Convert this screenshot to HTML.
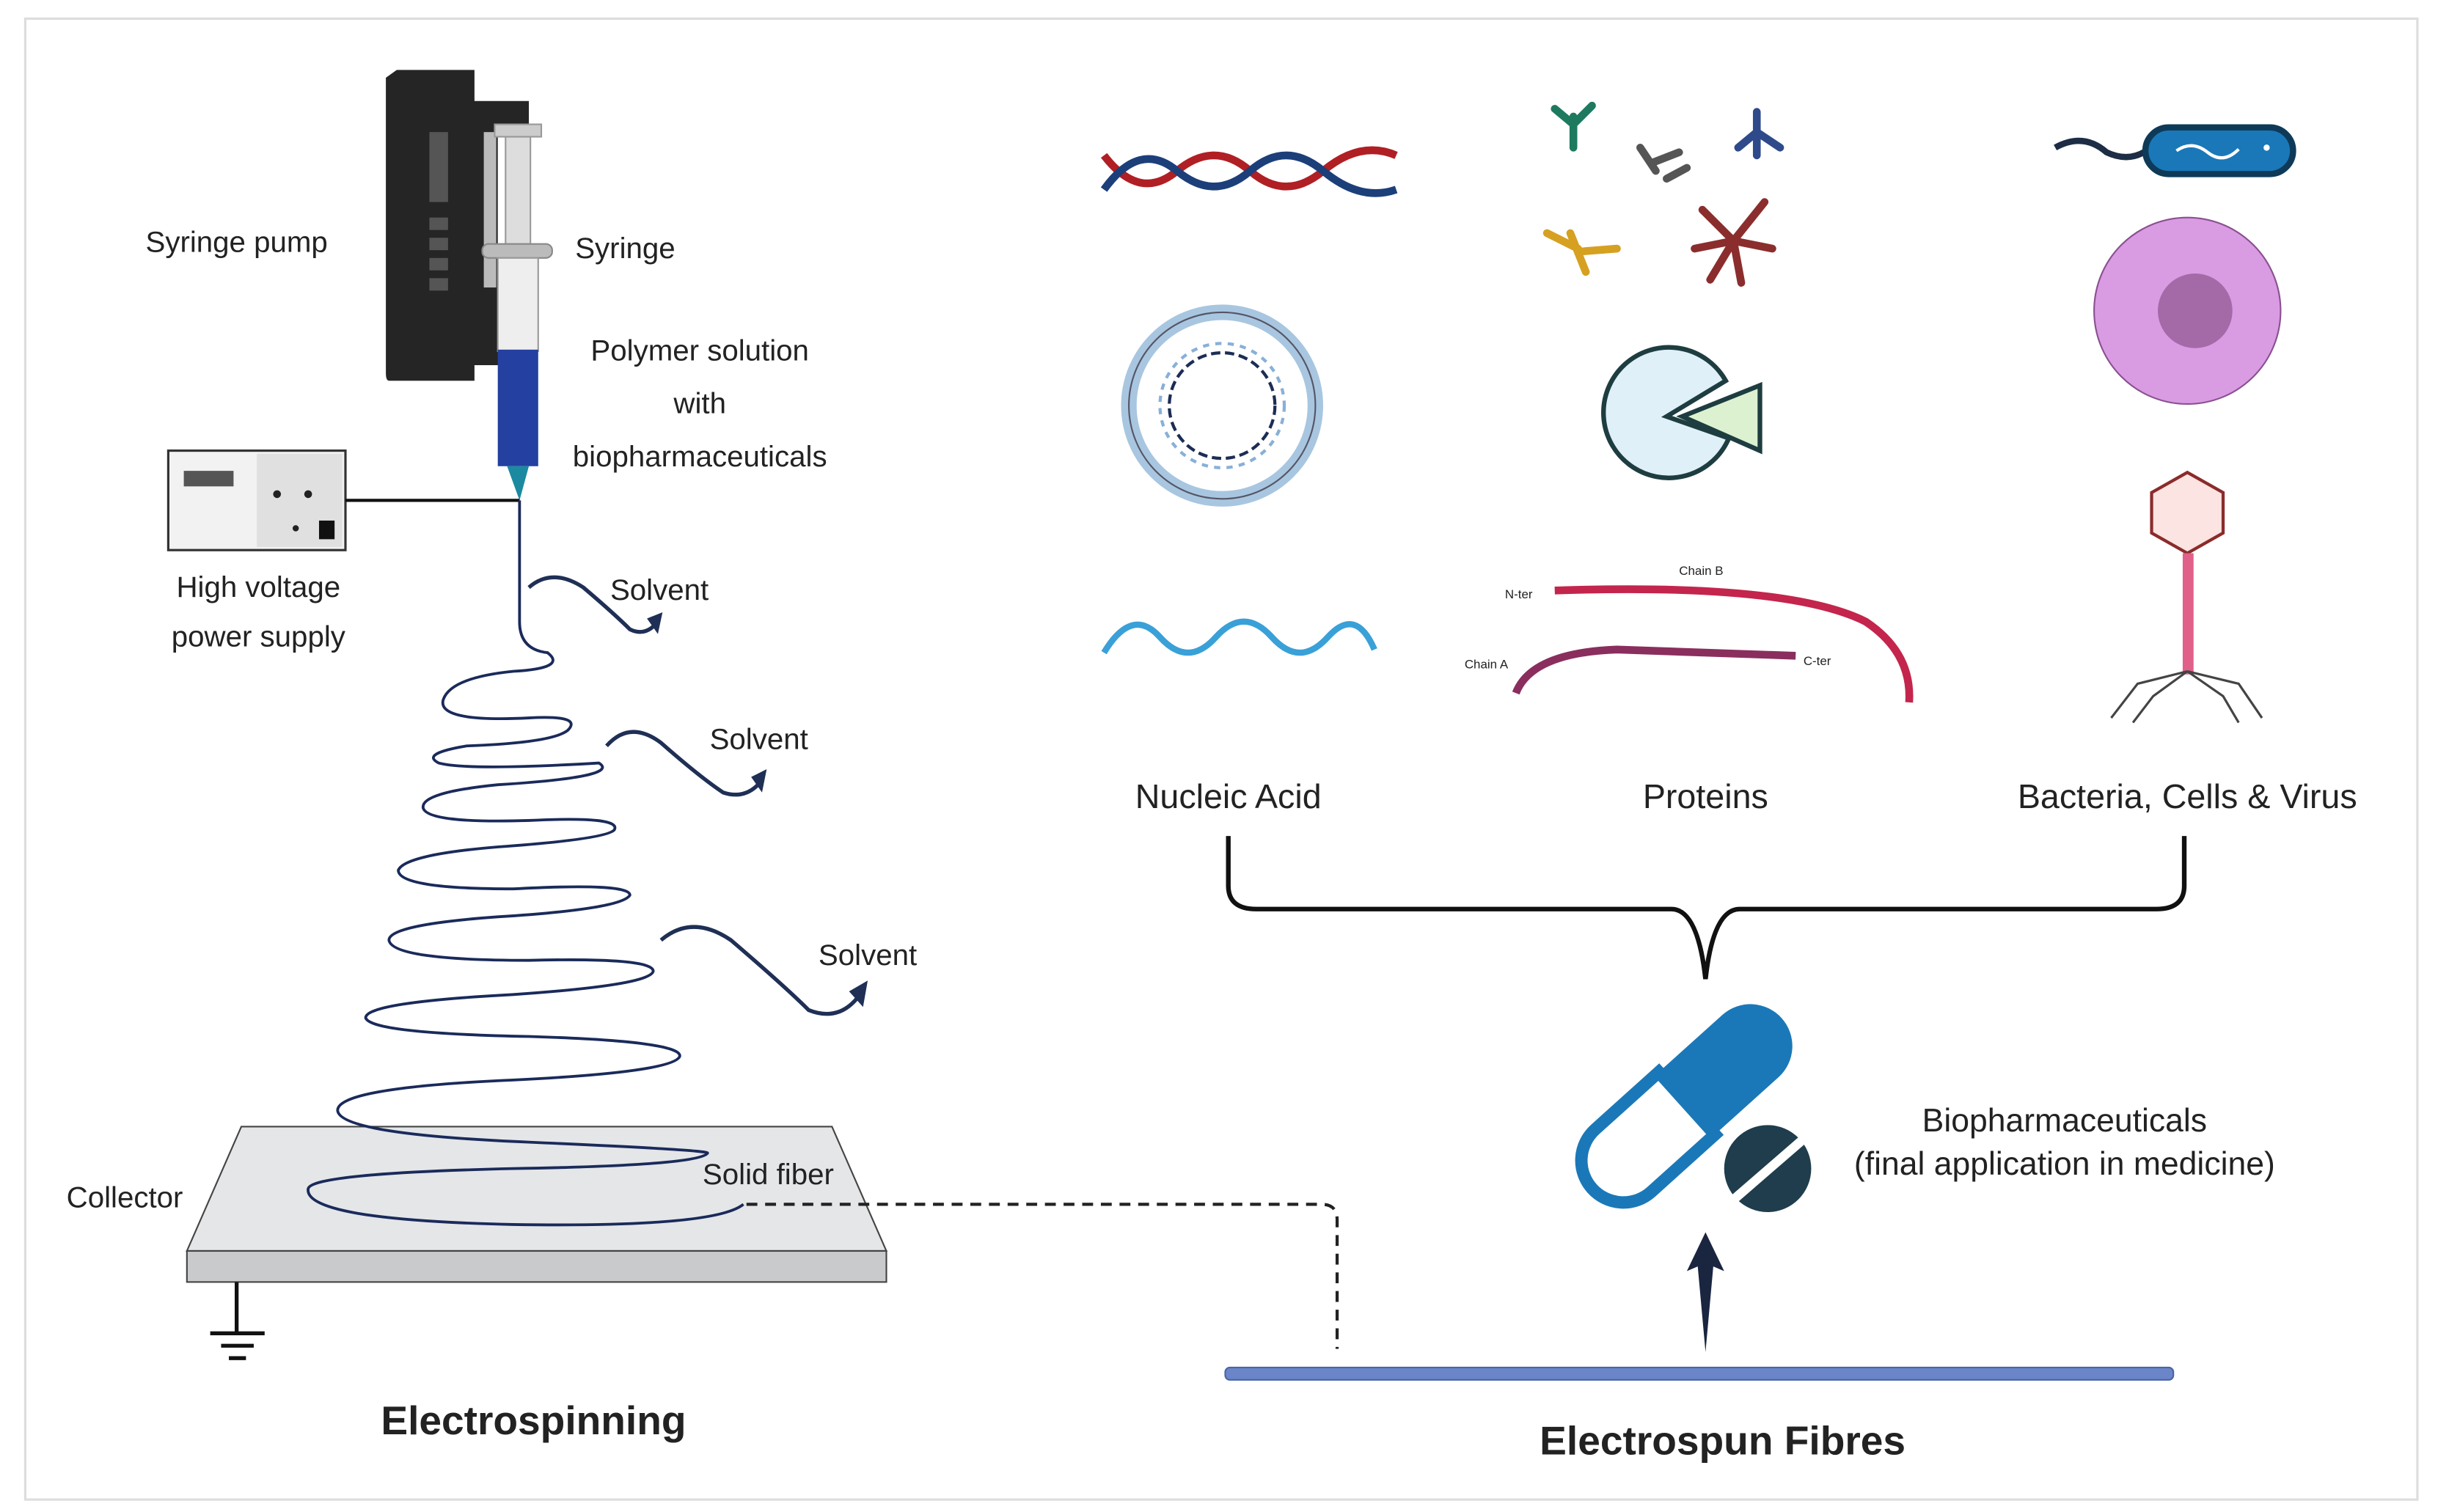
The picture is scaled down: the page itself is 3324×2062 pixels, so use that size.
<!DOCTYPE html>
<html><head><meta charset="utf-8"><style>html,body{margin:0;padding:0;background:#fff}svg{display:block}text{font-family:"Liberation Sans",sans-serif;fill:#222}</style></head><body>
<svg width="3324" height="2062" viewBox="0 0 1568 973" xmlns="http://www.w3.org/2000/svg">
<rect x="16" y="12" width="1539" height="953" fill="#fff" stroke="#ddd" stroke-width="1.5"/>
<!-- syringe pump -->
<path d="M255 45 H305 V65 H340 V80 H320 V190 H330 V215 H340 V235 H305 V245 H250 Q248 245 248 240 V50 Z" fill="#252525"/>
<rect x="276" y="85" width="12" height="45" fill="#555"/>
<rect x="276" y="140" width="12" height="8" fill="#555"/><rect x="276" y="153" width="12" height="8" fill="#555"/><rect x="276" y="166" width="12" height="8" fill="#555"/><rect x="276" y="179" width="12" height="8" fill="#555"/>
<rect x="311" y="85" width="8" height="100" fill="#bbb"/>
<rect x="325" y="88" width="16" height="75" fill="#ddd" stroke="#999"/>
<rect x="318" y="80" width="30" height="8" fill="#ccc" stroke="#999"/>
<rect x="310" y="157" width="45" height="9" rx="4" fill="#bbb" stroke="#888"/>
<rect x="320" y="166" width="26" height="60" fill="#eee" stroke="#999"/>
<rect x="320" y="225" width="26" height="75" fill="#2440a0"/>
<path d="M326 300 L340 300 L334 322 Z" fill="#1b8aa0"/>
<!-- power supply -->
<rect x="108" y="290" width="114" height="64" fill="#f2f2f2" stroke="#333" stroke-width="1.5"/>
<rect x="165" y="292" width="55" height="60" fill="#e0e0e0"/>
<rect x="118" y="303" width="32" height="10" fill="#555"/>
<circle cx="178" cy="318" r="2.5" fill="#222"/><circle cx="198" cy="318" r="2.5" fill="#222"/><circle cx="190" cy="340" r="2" fill="#222"/>
<rect x="205" y="335" width="10" height="12" fill="#111"/>
<line x1="222" y1="322" x2="334" y2="322" stroke="#111" stroke-width="2"/>
<text x="152" y="162" font-size="19" text-anchor="middle">Syringe pump</text>
<text x="402" y="166" font-size="19" text-anchor="middle">Syringe</text>
<text x="450" y="232" font-size="19" text-anchor="middle">Polymer solution</text>
<text x="450" y="266" font-size="19" text-anchor="middle">with</text>
<text x="450" y="300" font-size="19" text-anchor="middle">biopharmaceuticals</text>
<text x="166" y="384" font-size="19" text-anchor="middle">High voltage</text>
<text x="166" y="416" font-size="19" text-anchor="middle">power supply</text>
<!-- collector -->
<path d="M155 725 H535 L570 805 H120 Z" fill="#e4e6e8" stroke="#444" stroke-width="1"/>
<rect x="120" y="805" width="450" height="20" fill="#c9cacc" stroke="#444" stroke-width="1"/>
<line x1="152" y1="825" x2="152" y2="858" stroke="#111" stroke-width="2.5"/>
<line x1="135" y1="858" x2="170" y2="858" stroke="#111" stroke-width="2.5"/>
<line x1="142" y1="866" x2="163" y2="866" stroke="#111" stroke-width="2.5"/>
<line x1="147" y1="874" x2="158" y2="874" stroke="#111" stroke-width="2.5"/>
<!-- jet -->
<path d="M334 322 V400 Q334 418 352 420 Q365 430 330 432 Q290 436 285 450 Q280 465 340 462 Q375 460 365 470 Q355 478 300 480 Q270 485 282 491 Q300 496 385 491 Q400 500 320 505 Q270 510 272 520 Q275 530 340 528 Q400 525 395 534 Q390 540 320 545 Q260 550 256 560 Q256 572 330 572 Q405 568 405 576 Q400 585 320 590 Q250 595 250 605 Q252 618 340 618 Q420 616 420 625 Q418 634 330 640 Q235 645 235 655 Q238 665 340 667 Q440 670 437 680 Q432 690 330 695 Q215 700 217 715 Q220 730 340 735 Q455 740 455 742 Q450 750 330 752 Q200 755 198 765 Q195 785 330 788 Q460 790 478 775" fill="none" stroke="#1a2a5a" stroke-width="1.8"/>
<!-- solvents -->
<g fill="none" stroke="#1f2f55" stroke-width="2.5">
<path d="M340 378 Q355 365 375 378 Q395 395 405 405 Q415 410 423 400"/>
<path d="M390 480 Q405 463 425 478 Q450 500 465 510 Q480 515 490 502"/>
<path d="M425 605 Q445 588 470 605 Q505 635 520 650 Q540 658 553 640"/>
</g>
<path d="M416 398 L426 394 L423 408 Z" fill="#1f2f55"/>
<path d="M483 500 L493 495 L490 510 Z" fill="#1f2f55"/>
<path d="M546 638 L558 631 L555 648 Z" fill="#1f2f55"/>
<text x="424" y="386" font-size="19" text-anchor="middle">Solvent</text>
<text x="488" y="482" font-size="19" text-anchor="middle">Solvent</text>
<text x="558" y="621" font-size="19" text-anchor="middle">Solvent</text>
<text x="80" y="777" font-size="19" text-anchor="middle">Collector</text>
<text x="494" y="762" font-size="19" text-anchor="middle">Solid fiber</text>
<path d="M480 775 H850 Q860 775 860 785 V868" fill="none" stroke="#222" stroke-width="2" stroke-dasharray="7 5"/>
<text x="343" y="923" font-size="26" font-weight="bold" text-anchor="middle">Electrospinning</text>
<!-- DNA -->
<path d="M710 100 Q733 130 757 110 T804 110 T851 110 T898 100" fill="none" stroke="#b01f24" stroke-width="5"/>
<path d="M710 122 Q733 90 757 110 T804 110 T851 110 T898 122" fill="none" stroke="#1c3f7a" stroke-width="5"/>
<!-- plasmid -->
<circle cx="786" cy="261" r="60" fill="#fff" stroke="#a8c6e0" stroke-width="10"/>
<circle cx="786" cy="261" r="60" fill="none" stroke="#556" stroke-width="1"/>
<circle cx="786" cy="261" r="34" fill="none" stroke="#1c2d55" stroke-width="2" stroke-dasharray="6 3"/>
<circle cx="786" cy="261" r="40" fill="none" stroke="#88b0d8" stroke-width="2" stroke-dasharray="4 4"/>
<!-- mRNA -->
<path d="M710 420 Q728 390 746 410 T782 410 T818 410 T854 410 T884 418" fill="none" stroke="#3aa0d8" stroke-width="4"/>
<!-- antibodies -->
<g stroke-width="5" fill="none" stroke-linecap="round">
<path d="M1012 95 V75 M1012 80 L1000 70 M1012 80 L1024 68" stroke="#1d7a5e"/>
<path d="M1065 110 L1055 95 M1062 105 L1080 98 M1072 115 L1085 108" stroke="#555"/>
<path d="M1130 100 V72 M1130 85 L1118 95 M1130 85 L1145 95" stroke="#2e4a8a"/>
<path d="M1020 175 L1010 150 M1015 160 L995 150 M1015 162 L1040 160" stroke="#d6a021"/>
<path d="M1115 155 L1095 135 M1115 155 L1135 130 M1115 155 L1140 160 M1115 155 L1100 180 M1115 155 L1120 182 M1115 155 L1090 160" stroke="#8b2d2d"/>
</g>
<!-- pacman -->
<path d="M1072 268 L1110 245 A42 42 0 1 0 1112 282 Z" fill="#dff0f8" stroke="#1e3d40" stroke-width="3"/>
<path d="M1082 268 L1132 248 V290 Z" fill="#dcf1d0" stroke="#1e3d40" stroke-width="3"/>
<!-- protein chains -->
<path d="M1000 380 Q1150 375 1200 400 Q1230 420 1228 452" fill="none" stroke="#c4254c" stroke-width="5"/>
<path d="M975 446 Q985 420 1040 418 L1155 422" fill="none" stroke="#8a2e5e" stroke-width="5"/>
<text x="1080" y="370" font-size="8" fill="#c4254c">Chain B</text>
<text x="968" y="385" font-size="8">N-ter</text>
<text x="942" y="430" font-size="8">Chain A</text>
<text x="1160" y="428" font-size="8">C-ter</text>
<!-- bacterium -->
<path d="M1322 95 Q1340 85 1355 98 Q1370 105 1382 96" fill="none" stroke="#1c2d45" stroke-width="4"/>
<rect x="1380" y="82" width="95" height="30" rx="15" fill="#1a78b8" stroke="#0e3a58" stroke-width="4"/>
<path d="M1400 97 Q1410 90 1420 98 T1440 96" fill="none" stroke="#fff" stroke-width="2"/>
<circle cx="1458" cy="95" r="2" fill="#fff"/>
<!-- cell -->
<circle cx="1407" cy="200" r="60" fill="#d99be2" stroke="#8a5090" stroke-width="1"/>
<circle cx="1412" cy="200" r="24" fill="#a46aa8"/>
<!-- virus -->
<polygon points="1407,304 1430,317 1430,343 1407,356 1384,343 1384,317" fill="#fbe4e1" stroke="#8b2b2b" stroke-width="2"/>
<rect x="1404" y="356" width="7" height="78" fill="#e0608a"/>
<g stroke="#444" stroke-width="1.5" fill="none">
<path d="M1407 432 L1375 440 L1358 462 M1407 432 L1385 448 L1372 465 M1407 432 L1440 440 L1455 462 M1407 432 L1430 448 L1440 465"/>
</g>
<text x="790" y="520" font-size="22" text-anchor="middle">Nucleic Acid</text>
<text x="1097" y="520" font-size="22" text-anchor="middle">Proteins</text>
<text x="1407" y="520" font-size="22" text-anchor="middle">Bacteria, Cells &amp; Virus</text>
<path d="M790 538 V570 Q790 585 808 585 H1075 Q1092 585 1097 630 Q1102 585 1119 585 H1387 Q1405 585 1405 570 V538" fill="none" stroke="#111" stroke-width="3"/>
<!-- pill -->
<g transform="rotate(-42 1085 710)">
<path d="M1085 683 H1140 A27 27 0 0 1 1140 737 H1085 Z" fill="#1a78b8"/>
<path d="M1085 683 H1030 A27 27 0 0 0 1030 737 H1085 Z" fill="#fff" stroke="#1a78b8" stroke-width="8"/>
</g>
<circle cx="1137" cy="752" r="28" fill="#1f3d4c"/>
<line x1="1115" y1="772" x2="1160" y2="733" stroke="#fff" stroke-width="6"/>
<text x="1328" y="728" font-size="21" text-anchor="middle">Biopharmaceuticals</text>
<text x="1328" y="756" font-size="21" text-anchor="middle">(final application in medicine)</text>
<path d="M1097 870 L1092 815 L1085 818 L1097 793 L1109 818 L1102 815 Z" fill="#1a2540"/>
<rect x="788" y="880" width="610" height="8" rx="3" fill="#6b86c8" stroke="#4a64a8"/>
<text x="1108" y="936" font-size="26" font-weight="bold" text-anchor="middle">Electrospun Fibres</text>
</svg>
</body></html>
